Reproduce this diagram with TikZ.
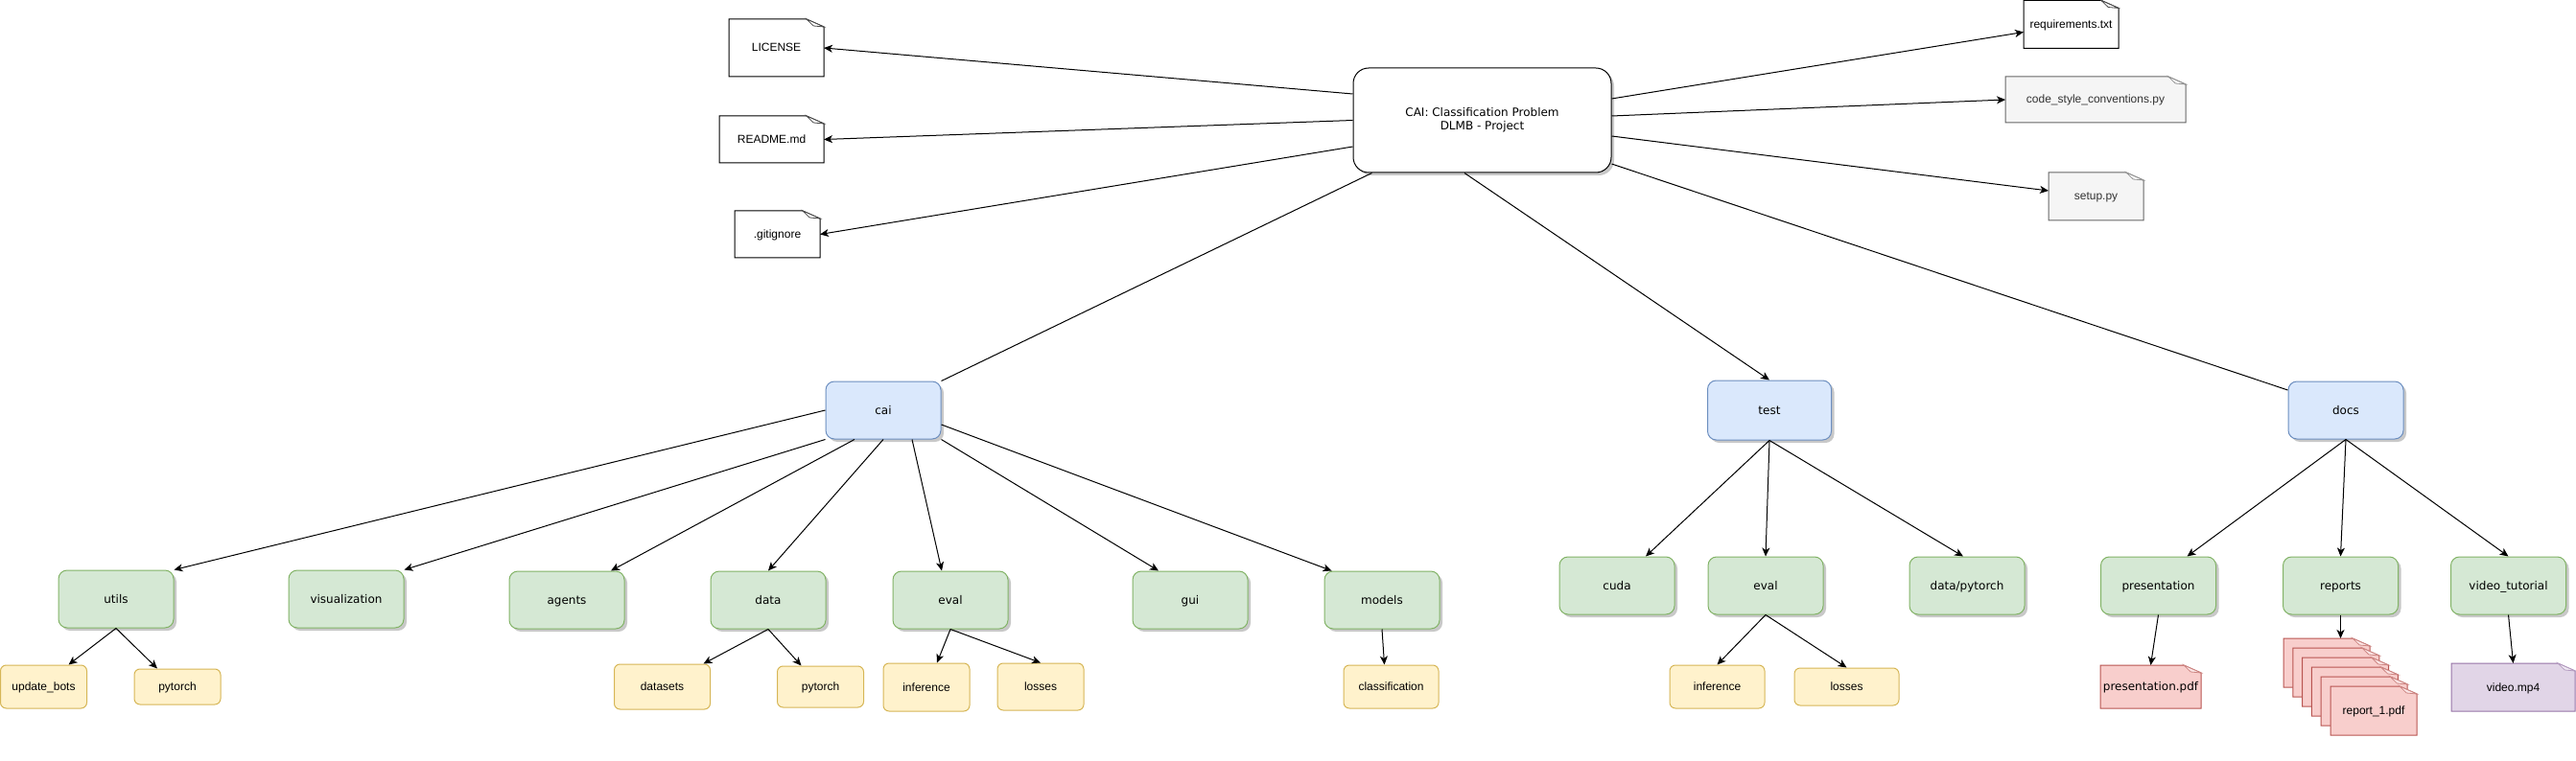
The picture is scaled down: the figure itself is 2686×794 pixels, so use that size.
\documentclass[tikz,border=0pt]{standalone}
\usepackage{fontspec}
\setmainfont{Liberation Sans}
\newfontfamily\dejavu{DejaVu Sans}
\usepackage{tikz}
\usetikzlibrary{arrows.meta,calc,shadows}
\definecolor{blueF}{HTML}{DAE8FC}
\definecolor{blueD}{HTML}{6C8EBF}
\definecolor{greenF}{HTML}{D5E8D4}
\definecolor{greenD}{HTML}{82B366}
\definecolor{yellowF}{HTML}{FFF2CC}
\definecolor{yellowD}{HTML}{D6B656}
\definecolor{grayF}{HTML}{F5F5F5}
\definecolor{grayD}{HTML}{666666}
\definecolor{redF}{HTML}{F8CECC}
\definecolor{redD}{HTML}{B85450}
\definecolor{purpleF}{HTML}{E1D5E7}
\definecolor{purpleD}{HTML}{9673A6}
\definecolor{shadowC}{HTML}{C8C8C8}
\tikzset{
	folder/.style={rectangle, rounded corners=9pt, line width=1pt,
		minimum width=120pt, minimum height=60pt, inner sep=2pt,
		text height=9pt, text depth=1pt,
		font=\dejavu\fontsize{12}{14}\selectfont,
		drop shadow={shadow xshift=3pt, shadow yshift=-3pt, fill=shadowC, opacity=1}},
	pkg/.style={folder, fill=blueF, draw=blueD},
	sub/.style={folder, fill=greenF, draw=greenD},
	leaf/.style={rectangle, rounded corners=6pt, line width=1pt, inner sep=2pt,
		text height=9pt, text depth=1pt,
		fill=yellowF, draw=yellowD, font=\fontsize{12}{14}\selectfont},
	fold size/.store in=\foldw,
	fold size=18pt,
	% the sheet is drawn first, the node itself only sets the text
	note/.style 2 args={rectangle, inner sep=2pt, outer sep=0pt,
		text height=9pt, text depth=1pt,
		font=\fontsize{12}{14}\selectfont,
		prefix after command={\pgfextra{\let\fixname\tikzlastnode}},
		append after command={\pgfextra{
			\filldraw[line width=1pt, fill=#1, draw=#2] let \p1=(\fixname.north east) in
				(\fixname.south west) -- (\fixname.north west) -- (\x1-\foldw,\y1)
				-- (\x1,\y1-8pt) -- (\fixname.south east) -- cycle;
			\filldraw[line width=.8pt, draw=#2!70, fill=#1!50!white] let \p1=(\fixname.north east) in
				(\x1-\foldw,\y1) -- (\x1-.6*\foldw,\y1-7pt) -- (\x1,\y1-8pt) -- cycle;}}},
	link/.style={line width=1pt, -{Stealth[length=9pt, width=8pt, inset=2.5pt]}},
	bare link/.style={line width=1pt},
}

\begin{document}
\begin{tikzpicture}[x=1pt, y=-1pt]
	\useasboundingbox (0,0) rectangle (2686,794);
	% project root and its files
	\node[folder, draw=black, fill=white, rounded corners=16pt, minimum width=269pt,
		minimum height=109pt, align=center, text height=, text depth=] (root) at (1545.5,125.5)
		{CAI: Classification Problem\\DLMB - Project};
	\node[note={white}{black}, minimum width=99pt, minimum height=60pt] (lic) at (809.5,50) {LICENSE};
	\node[note={white}{black}, minimum width=109pt, minimum height=49pt] (readme) at (804.5,145.5) {README.md};
	\node[note={white}{black}, fold size=16pt, minimum width=89pt, minimum height=49pt] (git) at (810.5,244.5) {.gitignore};
	\node[note={white}{black}, minimum width=99pt, minimum height=50pt] (req) at (2159.5,25.5) {requirements.txt};
	\node[note={grayF}{grayD}, fold size=36pt, text=black!80, minimum width=188pt, minimum height=48pt] (code) at (2185,104) {code\_style\_conventions.py};
	\node[note={grayF}{grayD}, fold size=16pt, text=black!80, minimum width=99pt, minimum height=50pt] (setup) at (2185.5,205) {setup.py};
	% packages
	\node[pkg] (cai) at (921,428) {cai};
	\node[pkg, minimum width=129pt, minimum height=62pt] (test) at (1845,428) {test};
	\node[pkg] (docs) at (2446,428) {docs};
	% cai
	\node[sub] (utils) at (121,625) {utils};
	\node[sub] (vis) at (361,625) {visualization};
	\node[sub] (agents) at (591,626) {agents};
	\node[sub] (data) at (801,626) {data};
	\node[sub] (eval) at (991,626) {eval};
	\node[sub] (gui) at (1241,626) {gui};
	\node[sub] (models) at (1441,626) {models};
	\node[leaf, minimum width=90pt, minimum height=45pt] (upd) at (45.5,716.5) {update\_bots};
	\node[leaf, minimum width=90pt, minimum height=37pt] (pyt1) at (185,716.5) {pytorch};
	\node[leaf, minimum width=100pt, minimum height=47pt] (dsets) at (690.5,716.5) {datasets};
	\node[leaf, minimum width=90pt, minimum height=43pt] (pyt2) at (855.5,716.5) {pytorch};
	\node[leaf, minimum width=90pt, minimum height=50pt] (inf1) at (966,717) {inference};
	\node[leaf, minimum width=90pt, minimum height=49pt] (loss1) at (1085,716.5) {losses};
	\node[leaf, minimum width=99pt, minimum height=45pt] (cls) at (1450.5,716.5) {classification};
	% test
	\node[sub] (cuda) at (1686,611) {cuda};
	\node[sub] (eval2) at (1841,611) {eval};
	\node[sub] (dp) at (2051,611) {data/pytorch};
	\node[leaf, minimum width=99pt, minimum height=45pt] (inf2) at (1790.5,716.5) {inference};
	\node[leaf, minimum width=109pt, minimum height=39pt] (loss2) at (1925.5,716.5) {losses};
	% docs
	\node[sub] (pres) at (2250.5,611) {presentation};
	\node[sub] (reports) at (2440.5,611) {reports};
	\node[sub] (vt) at (2615.5,611) {video\_tutorial};
	\node[note={redF}{redD}, font=\dejavu\fontsize{12}{14}\selectfont, minimum width=105pt, minimum height=45pt] (pdf) at (2242.5,716.5) {presentation.pdf};
	\foreach \i in {0,...,4}
		\node[note={redF}{redD}, fold size=14pt, minimum width=90pt, minimum height=51pt] (page\i) at ({2426+9.8*\i},{691.5+10*\i}) {};
	\node[note={redF}{redD}, fold size=14pt, minimum width=90pt, minimum height=51pt] (page5) at (2475,741.5) {report\_1.pdf};
	\node[note={purpleF}{purpleD}, fold size=24pt, minimum width=129pt, minimum height=50pt] (mp4) at (2620.5,717) {video.mp4};

	% root
	\draw[link] ([yshift=27.5pt]root.west) -- (lic.east);
	\draw[link] (root.west) -- (readme.east);
	\draw[link] ([yshift=-27.5pt]root.west) -- (git.east);
	\draw[link] ([yshift=22.5pt]root.east) -- ([yshift=-8pt]req.west);
	\draw[link] ([yshift=4.5pt]root.east) -- (code.west);
	\draw[link] ([yshift=-16.5pt]root.east) -- ([yshift=6pt]setup.west);
	\draw[bare link] ([xshift=20pt]root.south west) -- (cai.north east);
	\draw[link] ([xshift=-18.5pt]root.south) -- (test.north);
	\draw[bare link] ([yshift=-45.5pt]root.east) -- ([yshift=21pt]docs.west);
	% cai
	\draw[link] (cai.west) -- (utils.north east);
	\draw[link] (cai.south west) -- (vis.north east);
	\draw[link] ([xshift=-30pt]cai.south) -- ([xshift=46pt]agents.north);
	\draw[link] (cai.south) -- (data.north);
	\draw[link] ([xshift=30pt]cai.south) -- ([xshift=-9pt]eval.north);
	\draw[link] (cai.south east) -- ([xshift=-33pt]gui.north);
	\draw[link] ([yshift=-15pt]cai.east) -- ([xshift=8pt]models.north west);
	\foreach \c/\s in {upd/26pt, pyt1/-21pt}
		\draw[link] (utils.south) -- ([xshift=\s]\c.north);
	\foreach \c/\s in {dsets/43pt, pyt2/-20pt}
		\draw[link] (data.south) -- ([xshift=\s]\c.north);
	\foreach \c/\s in {inf1/11pt, loss1/0pt}
		\draw[link] (eval.south) -- ([xshift=\s]\c.north);
	\draw[link] (models.south) -- ([xshift=-7pt]cls.north);
	% test
	\foreach \c/\s in {cuda/30pt, eval2/0pt, dp/-4pt}
		\draw[link] (test.south) -- ([xshift=\s]\c.north);
	\foreach \c in {inf2, loss2}
		\draw[link] (eval2.south) -- (\c.north);
	% docs
	\foreach \c/\s in {pres/30pt, reports/0pt, vt/0pt}
		\draw[link] (docs.south) -- ([xshift=\s]\c.north);
	\draw[link] (pres.south) -- (pdf.north);
	\draw[link] (reports.south) -- (reports.south |- page0.north);
	\draw[link] (vt.south) -- (mp4.north);
\end{tikzpicture}
\end{document}
